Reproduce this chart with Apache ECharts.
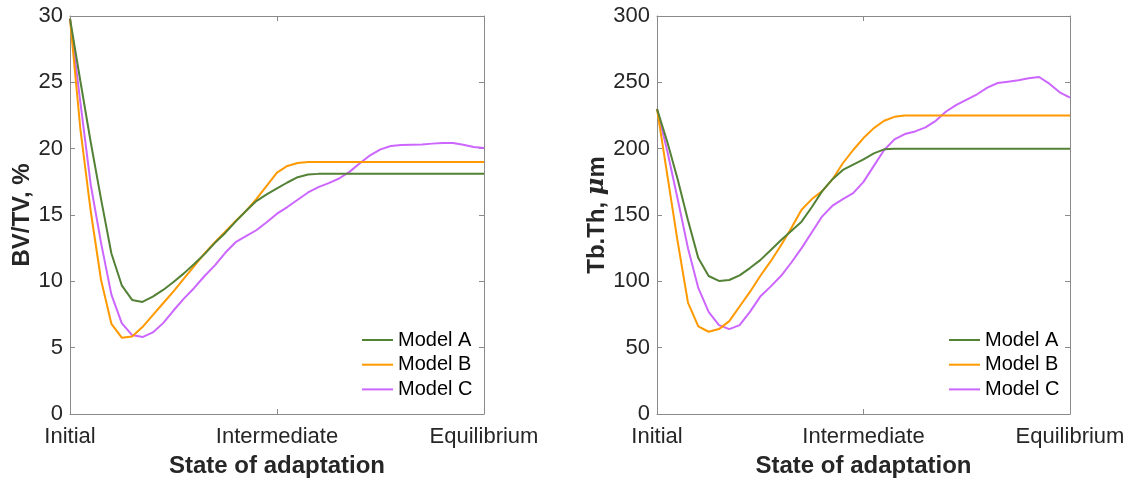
<!DOCTYPE html>
<html>
<head>
<meta charset="utf-8">
<script src="https://cdn.jsdelivr.net/npm/echarts@6/dist/echarts.min.js"></script>
<style>html,body{margin:0;padding:0;background:#fff;}#c{width:1134px;height:480px;}</style>
</head>
<body>
<div id="c"></div>
<script>
// ---- data ----
const xTickLabels = ['Initial', 'Intermediate', 'Equilibrium'];
const seriesNames = ['Model A', 'Model B', 'Model C'];
// BV/TV, %  (41 states, index 0 = Initial, 20 = Intermediate, 40 = Equilibrium)
const bvtvA = [29.8,25.1,20.5,16.2,12.1,9.7,8.6,8.45,8.85,9.35,9.95,10.6,11.3,12.05,12.9,13.65,14.5,15.3,16.05,16.55,17.0,17.45,17.85,18.05,18.1,18.1,18.1,18.1,18.1,18.1,18.1,18.1,18.1,18.1,18.1,18.1,18.1,18.1,18.1,18.1,18.1];
const bvtvB = [29.8,21.5,15.3,10.1,6.8,5.75,5.85,6.55,7.45,8.35,9.25,10.2,11.15,12.1,12.95,13.75,14.55,15.3,16.2,17.2,18.2,18.7,18.92,19.0,19.0,19.0,19.0,19.0,19.0,19.0,19.0,19.0,19.0,19.0,19.0,19.0,19.0,19.0,19.0,19.0,19.0];
const bvtvC = [29.8,23.5,17.3,12.9,9.0,6.85,5.95,5.8,6.15,6.85,7.8,8.7,9.5,10.4,11.2,12.15,12.95,13.4,13.85,14.45,15.1,15.6,16.15,16.7,17.1,17.4,17.75,18.25,18.9,19.5,19.95,20.2,20.28,20.3,20.32,20.38,20.43,20.42,20.3,20.12,20.05];
// Tb.Th, um
const tbthA = [230,205,177,146,117.5,104,100.3,101,104.5,110,116,123.5,131,138,145,156,168,177,184,188,192,196.5,199.5,200,200,200,200,200,200,200,200,200,200,200,200,200,200,200,200,200,200];
const tbthB = [230,180,130,84,66,62,64,70,81,92,104,115,127,140,154,162,168,177,189,199,208,215.5,221,224,225,225,225,225,225,225,225,225,225,225,225,225,225,225,225,225,225];
const tbthC = [230,198,162,125,95,77,67,64,67,77,88.5,96,104,114,125,137,149,157,162,166.5,175,187,199,207,211,213,216,221,228,233,237,241,246,249.5,250.5,251.5,253,254,249,242.5,238.5];
const colors = ['#538135', '#ff9900', '#cc66ff'];

const FONT = '"Liberation Sans", Arial, Helvetica, sans-serif';
const TXT = '#262626';
const LINE = '#8a8a8a';
const pairs = arr => arr.map((v, i) => [i, v]);

const grids = [
  {left: 70, top: 16, width: 414, height: 398, containLabel: false, outerBoundsMode: 'none'},
  {left: 657, top: 16, width: 413, height: 398, containLabel: false, outerBoundsMode: 'none'}
];

function xAxes(gi) {
  return [
    {type: 'value', gridIndex: gi, min: 0, max: 40, interval: 20, position: 'bottom',
     name: 'State of adaptation', nameLocation: 'middle', nameGap: 40,
     nameTextStyle: {fontFamily: FONT, fontSize: 24, fontWeight: 'bold', color: TXT},
     axisLine: {show: true, onZero: false, lineStyle: {color: LINE, width: 1}},
     axisTick: {show: true, inside: true, length: 5, lineStyle: {color: LINE}},
     axisLabel: {fontFamily: FONT, fontSize: 22, color: TXT, margin: 12,
       formatter: v => xTickLabels[Math.round(v / 20)]},
     splitLine: {show: false}},
    {type: 'value', gridIndex: gi, min: 0, max: 40, interval: 20, position: 'top',
     axisLine: {show: true, onZero: false, lineStyle: {color: LINE, width: 1}},
     axisTick: {show: true, inside: true, length: 5, lineStyle: {color: LINE}},
     axisLabel: {show: false}, splitLine: {show: false}}
  ];
}
function yAxes(gi, max, interval, name, gap) {
  return [
    {type: 'value', gridIndex: gi, min: 0, max: max, interval: interval, position: 'left',
     name: name, nameLocation: 'middle', nameGap: gap,
     nameTextStyle: {fontFamily: FONT, fontSize: 24, fontWeight: 'bold', color: TXT,
       rich: {b: {fontFamily: FONT, fontSize: 24, fontWeight: 'bold', color: TXT},
              mu: {fontFamily: '"DejaVu Serif", serif', fontSize: 24, fontStyle: 'italic', color: TXT}}},
     axisLine: {show: true, onZero: false, lineStyle: {color: LINE, width: 1}},
     axisTick: {show: true, inside: true, length: 5, lineStyle: {color: LINE}},
     axisLabel: {fontFamily: FONT, fontSize: 22, color: TXT, margin: 7},
     splitLine: {show: false}},
    {type: 'value', gridIndex: gi, min: 0, max: max, interval: interval, position: 'right',
     axisLine: {show: true, onZero: false, lineStyle: {color: LINE, width: 1}},
     axisTick: {show: true, inside: true, length: 5, lineStyle: {color: LINE}},
     axisLabel: {show: false}, splitLine: {show: false}}
  ];
}

const leftData = [bvtvA, bvtvB, bvtvC];
const rightData = [tbthA, tbthB, tbthC];
const series = [];
leftData.forEach((d, k) => series.push({
  type: 'line', name: seriesNames[k], xAxisIndex: 0, yAxisIndex: 0, data: pairs(d),
  symbol: 'none', lineStyle: {color: colors[k], width: 2}, itemStyle: {color: colors[k]},
  animation: false, z: 3 - k
}));
rightData.forEach((d, k) => series.push({
  type: 'line', name: seriesNames[k], xAxisIndex: 2, yAxisIndex: 2, data: pairs(d),
  symbol: 'none', lineStyle: {color: colors[k], width: 2}, itemStyle: {color: colors[k]},
  animation: false, z: 3 - k
}));

function legend(left) {
  return {
    data: seriesNames, orient: 'vertical', left: left, top: 330,
    itemWidth: 31, itemHeight: 20, itemGap: 4.7, icon: 'path://M0,9 L31,9 L31,11 L0,11 Z',
    textStyle: {fontFamily: FONT, fontSize: 20, color: '#000', lineHeight: 20},
    selectedMode: false, padding: 0
  };
}

const option = {
  backgroundColor: '#fff',
  animation: false,
  grid: grids,
  xAxis: [...xAxes(0), ...xAxes(1)],
  yAxis: [...yAxes(0, 30, 5, 'BV/TV, %', 36), ...yAxes(1, 300, 50, '{b|Tb.Th, }{mu|μ}{b|m}', 48)],
  legend: [legend(362), legend(949)],
  series: series
};
const chart = echarts.init(document.getElementById('c'), null, {renderer: 'canvas'});
chart.setOption(option);
</script>
</body>
</html>
